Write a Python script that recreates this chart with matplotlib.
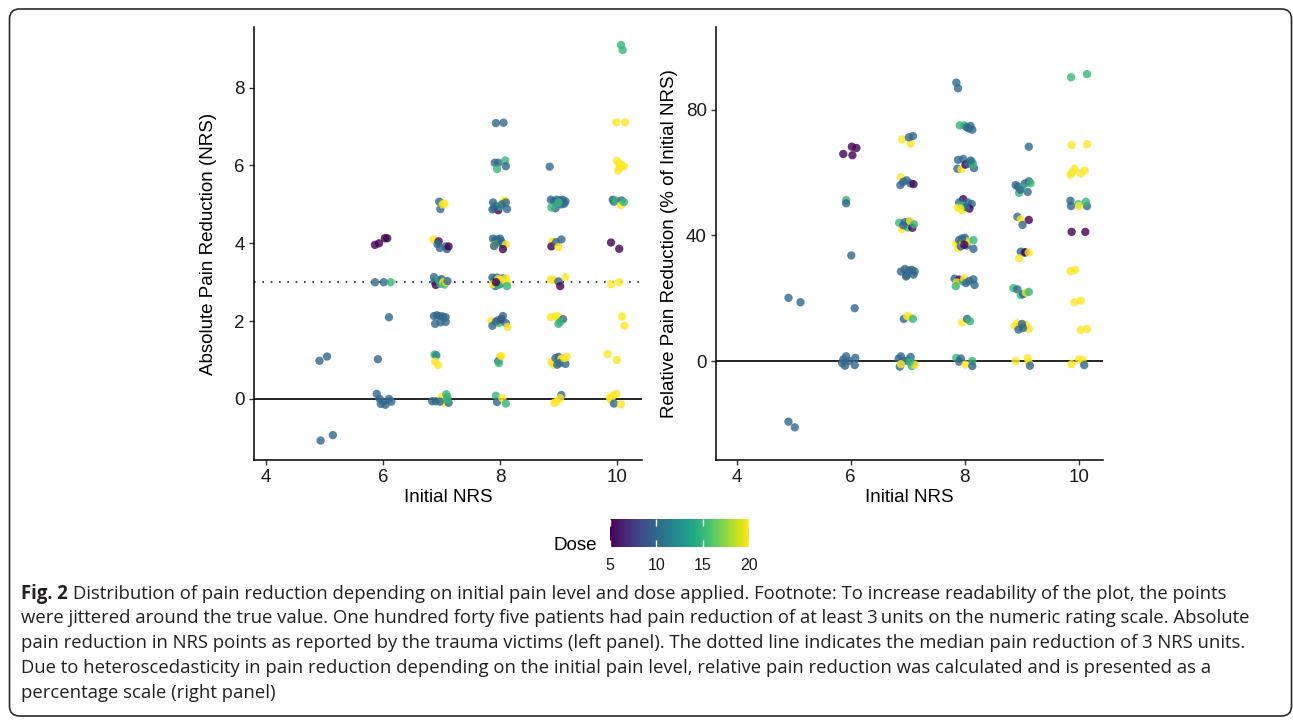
import matplotlib
matplotlib.use("Agg")
import matplotlib.pyplot as plt
from matplotlib.colors import Normalize
from matplotlib.patches import FancyBboxPatch
import matplotlib.colorbar as mcolorbar
import numpy as np

# ---------------- data (jittered positions) ----------------
# Left panel: absolute pain reduction (NRS)
abs_nrs = [
    4.91, 5.04, 4.93, 5.14,
    5.86, 5.93, 6.03, 6.07, 5.86, 6.01, 6.13, 6.10, 5.91,
    5.89, 5.94, 6.00, 6.04, 6.10, 6.14, 5.96,
    6.96, 6.98, 7.02, 7.05,
    6.86, 6.95, 6.93, 6.97, 7.07, 7.09, 7.12,
    6.87, 6.88, 6.90, 6.95, 6.98, 7.00, 7.03, 7.05, 7.08, 7.10,
    6.87, 6.92, 6.97, 7.02, 7.07, 6.89, 6.98, 7.07,
    6.88, 6.91, 6.89, 6.94,
    6.84, 6.90, 7.00, 7.04, 7.08, 7.10, 7.12, 7.10, 6.97,
    7.93, 8.06,
    7.91, 7.97, 7.95, 8.09, 8.10,
    7.87, 7.88, 7.92, 7.97, 8.00, 8.08, 8.06, 8.12, 8.03, 8.10, 7.90,
    7.88, 7.92, 7.90, 7.95, 7.98, 8.02, 8.05, 8.10, 8.05, 7.90, 8.00,
    7.87, 7.90, 7.92, 7.95, 8.00, 8.05, 7.88, 8.02, 8.10, 8.12, 7.97, 8.12, 7.97, 7.93,
    7.85, 7.87, 7.93, 7.98, 8.02, 8.05, 8.10, 8.13, 7.96,
    8.00, 7.97, 7.98, 8.02,
    7.93, 7.95, 8.04, 8.10,
    8.85,
    8.87, 8.92, 8.97, 9.02, 9.07, 9.12, 8.95, 9.05, 9.10, 8.88, 9.00,
    8.90, 8.88, 8.96, 9.00, 9.05,
    8.87, 8.92, 9.00, 9.03, 9.12,
    8.87, 8.94, 8.99, 9.00, 9.08, 9.03,
    8.88, 8.92, 8.95, 9.00, 9.05, 9.02, 9.12, 9.10, 8.98, 9.14,
    9.05, 9.03, 8.97, 8.93,
    10.07, 10.10, 9.99, 10.14,
    10.00, 10.04, 10.08, 10.02, 10.05, 10.12,
    9.93, 9.95, 9.98, 10.08, 10.07, 10.12,
    9.90, 10.04, 9.90, 10.04, 10.09, 10.13, 9.84, 10.00,
    9.88, 9.93, 9.99, 9.90, 9.95, 10.07,
]
abs_reduction = [
    0.98, 1.09, -1.07, -0.93,
    3.96, 4.00, 4.13, 4.13, 3.00, 3.00, 3.00, 2.10, 1.02,
    0.13, 0.00, -0.07, -0.15, 0.00, -0.07, -0.13,
    5.07, 4.88, 5.00, 5.02,
    4.10, 4.05, 3.98, 3.88, 3.92, 3.85, 3.92,
    3.13, 3.02, 2.93, 3.05, 2.96, 3.08, 3.00, 2.94, 3.00, 3.03,
    2.13, 2.15, 2.13, 2.12, 2.10, 1.93, 1.97, 1.98,
    1.14, 1.12, 0.96, 0.87,
    -0.06, -0.06, 0.05, -0.10, 0.12, 0.05, -0.10, -0.02, -0.07,
    7.09, 7.10,
    6.07, 6.07, 5.91, 6.13, 5.98,
    4.87, 5.05, 4.96, 4.85, 4.95, 5.10, 5.07, 4.88, 5.00, 5.05, 4.90,
    4.12, 4.07, 3.95, 4.10, 4.02, 4.05, 3.98, 3.97, 3.85, 3.93, 4.12,
    3.12, 3.05, 2.90, 3.12, 2.95, 3.10, 2.95, 3.05, 3.10, 3.00, 3.08, 2.90, 2.93, 3.00,
    2.00, 1.88, 1.98, 1.95, 2.05, 2.13, 1.95, 1.85, 2.02,
    1.08, 0.97, 0.92, 1.10,
    0.08, -0.08, 0.02, -0.12,
    5.97,
    5.12, 5.08, 5.12, 5.10, 5.12, 5.08, 4.90, 5.00, 5.02, 4.92, 5.05,
    4.05, 3.92, 4.03, 3.90, 4.10,
    3.07, 3.05, 3.02, 2.90, 3.13,
    2.10, 2.12, 2.12, 1.93, 2.05, 1.98,
    0.95, 0.88, 1.05, 1.08, 1.03, 0.92, 0.90, 1.05, 0.88, 1.08,
    0.10, 0.02, -0.07, -0.10,
    9.10, 8.97, 7.11, 7.11,
    6.12, 6.05, 6.00, 5.87, 5.95, 5.98,
    5.12, 5.07, 5.10, 5.10, 4.98, 5.06,
    4.02, 3.86, 2.95, 3.00, 2.12, 1.88, 1.15, 1.00,
    0.03, 0.08, 0.13, -0.02, -0.12, -0.14,
]
abs_dose = [
    10, 10, 10, 10,
    5, 5, 5, 5, 10, 10, 15, 10, 10,
    10, 10, 10, 10, 10, 10, 10,
    10, 10, 20, 20,
    20, 5, 10, 10, 10, 10, 5,
    10, 10, 5, 15, 15, 10, 20, 15, 20, 10,
    10, 10, 10, 10, 10, 10, 10, 10,
    15, 12, 20, 20,
    10, 10, 20, 20, 15, 15, 10, 15, 10,
    10, 10,
    10, 10, 15, 15, 10,
    10, 10, 10, 5, 15, 20, 20, 10, 10, 10, 10,
    10, 10, 20, 10, 15, 10, 10, 20, 5, 10, 10,
    10, 10, 10, 10, 10, 10, 20, 20, 20, 20, 20, 15, 15, 5,
    20, 10, 10, 15, 5, 10, 10, 20, 10,
    20, 10, 15, 20,
    15, 10, 20, 15,
    10,
    10, 10, 10, 10, 10, 10, 10, 10, 10, 15, 15,
    20, 5, 10, 20, 10,
    20, 20, 10, 5, 20,
    20, 20, 20, 15, 10, 15,
    20, 20, 10, 10, 20, 10, 10, 20, 10, 20,
    10, 20, 20, 20,
    15, 15, 20, 20,
    20, 20, 20, 20, 20, 20,
    10, 10, 15, 10, 20, 15,
    5, 5, 20, 20, 20, 20, 20, 20,
    20, 20, 20, 20, 10, 20,
]

# Right panel: relative pain reduction (% of initial NRS)
rel_nrs = [
    4.91, 5.12, 4.91, 5.02,
    5.87, 6.02, 6.10, 6.03, 5.92, 5.92, 6.01, 6.07,
    5.87, 5.92, 6.08, 5.85, 5.90, 6.07, 5.97,
    6.90, 7.05, 7.02, 7.09,
    6.88, 6.87, 6.98, 7.05, 7.10, 6.92,
    6.85, 6.90, 6.95, 7.00, 7.02, 7.04, 7.08, 7.11, 6.92,
    6.88, 6.95, 6.98, 7.02, 7.07, 7.12, 6.97, 7.10,
    6.93, 6.99, 7.03, 7.09,
    6.84, 6.88, 6.93, 7.05, 7.00, 7.10, 6.86, 6.88, 7.07, 7.12, 7.03,
    7.85, 7.88,
    7.91, 7.99, 8.03, 8.10, 8.13, 8.07,
    7.88, 7.87, 7.97, 7.94, 8.01, 8.06, 8.12, 8.16, 8.14, 8.10,
    7.97, 8.05, 8.12, 7.90, 7.88, 7.96, 7.95, 8.08, 8.02, 7.92,
    7.85, 7.88, 7.90, 7.93, 7.97, 8.00, 8.03, 8.05, 8.15, 8.15, 7.95, 7.99,
    7.82, 7.90, 7.86, 7.84, 7.97, 7.99, 8.08, 8.15, 8.17, 8.02,
    7.95, 8.04, 8.09,
    7.85, 7.93, 7.90, 8.01, 8.13, 8.13,
    9.12,
    8.89, 8.93, 8.95, 9.05, 9.10, 9.12, 9.15, 9.00, 8.97,
    8.92, 8.98, 9.01, 9.12,
    8.98, 9.04, 9.06, 8.95, 9.12,
    8.85, 8.92, 8.98, 9.02, 9.07, 9.12,
    8.87, 8.92, 9.00, 9.07, 9.12, 8.94, 9.02, 9.00,
    8.89, 9.10, 9.12, 9.14,
    9.86, 10.14, 9.87, 10.14,
    9.85, 9.92, 10.03, 10.10, 9.88,
    9.85, 9.86, 9.99, 10.14, 10.12, 10.00,
    9.87, 10.11, 9.85, 9.93, 9.92, 10.03, 10.03, 10.14,
    9.87, 10.00, 10.06, 10.09,
]
rel_pct = [
    20.1, 18.7, -19.3, -21.1,
    65.9, 68.2, 67.8, 65.5, 51.2, 50.2, 33.6, 16.8,
    0.5, 1.5, 1.0, -0.7, -1.5, -1.3, 0.0,
    70.5, 69.2, 71.2, 71.6,
    58.5, 56.0, 57.5, 56.5, 56.3, 57.0,
    44.0, 42.0, 44.2, 42.5, 44.3, 44.5, 42.4, 43.5, 43.2,
    28.5, 29.3, 27.3, 28.8, 29.0, 28.5, 26.9, 27.5,
    13.4, 14.3, 14.0, 13.4,
    0.8, 1.5, 0.0, 1.3, 0.2, -0.8, -1.8, -1.0, -1.6, -1.2, -0.3,
    88.6, 86.8,
    75.0, 75.0, 74.4, 74.8, 73.6, 74.0,
    64.0, 61.2, 64.3, 61.0, 62.5, 62.8, 63.5, 61.4, 62.8, 63.8,
    51.5, 50.5, 50.0, 50.5, 48.8, 48.0, 49.5, 48.5, 49.0, 48.5,
    37.5, 36.0, 38.5, 36.5, 37.8, 39.2, 36.8, 38.0, 38.5, 35.7, 39.0, 37.0,
    26.2, 25.9, 25.0, 23.8, 25.3, 26.3, 25.5, 26.0, 24.2, 24.8,
    12.3, 13.4, 12.7,
    1.0, 0.8, -0.2, -1.1, 0.0, -1.6,
    68.2,
    56.0, 55.5, 53.5, 56.5, 53.8, 57.2, 56.6, 55.0, 54.5,
    45.9, 45.1, 43.3, 44.9,
    34.8, 34.5, 34.6, 32.7, 34.5,
    23.2, 22.8, 21.0, 21.3, 21.8, 22.0,
    11.2, 12.0, 11.0, 11.5, 10.2, 10.0, 10.5, 11.8,
    0.0, 0.9, -0.5, -1.5,
    90.3, 91.3, 68.7, 69.0,
    59.3, 61.2, 59.7, 60.6, 60.0,
    51.0, 49.3, 49.9, 49.3, 50.7, 49.3,
    41.1, 41.1, 28.6, 29.0, 18.7, 19.2, 9.9, 10.2,
    -1.0, 0.5, 0.3, -1.3,
]
rel_dose = [
    10, 10, 10, 10,
    5, 5, 5, 5, 15, 10, 10, 10,
    10, 10, 10, 10, 10, 10, 10,
    20, 20, 10, 10,
    20, 10, 10, 10, 5, 10,
    15, 20, 10, 15, 10, 20, 5, 15, 10,
    10, 10, 10, 10, 10, 10, 10, 10,
    10, 20, 20, 15,
    10, 10, 10, 10, 10, 10, 10, 20, 15, 20, 15,
    10, 10,
    15, 15, 10, 10, 10, 10,
    10, 10, 10, 20, 5, 10, 15, 10, 15, 10,
    5, 10, 10, 10, 20, 20, 15, 5, 10, 20,
    20, 20, 10, 10, 20, 10, 10, 20, 15, 10, 10, 5,
    10, 5, 20, 15, 15, 20, 10, 10, 10, 10,
    20, 10, 15,
    15, 10, 10, 20, 15, 10,
    10,
    10, 10, 15, 10, 10, 10, 15, 15, 10,
    10, 20, 10, 5,
    10, 10, 5, 20, 20,
    15, 10, 15, 10, 20, 15,
    20, 20, 20, 20, 20, 10, 10, 10,
    20, 20, 20, 10,
    15, 15, 20, 20,
    20, 20, 20, 20, 20,
    10, 10, 15, 10, 15, 20,
    5, 5, 20, 20, 20, 20, 20, 20,
    20, 20, 20, 10,
]

x_ticks = [4, 6, 8, 10]
abs_yticks = [0, 2, 4, 6, 8]
rel_yticks = [0, 40, 80]
dose_ticks = [5, 10, 15, 20]
median_reduction = 3

caption_lines = [
    "Distribution of pain reduction depending on initial pain level and dose applied. Footnote: To increase readability of the plot, the points",
    "were jittered around the true value. One hundred forty five patients had pain reduction of at least 3\u2009units on the numeric rating scale. Absolute",
    "pain reduction in NRS points as reported by the trauma victims (left panel). The dotted line indicates the median pain reduction of 3 NRS units.",
    "Due to heteroscedasticity in pain reduction depending on the initial pain level, relative pain reduction was calculated and is presented as a",
    "percentage scale (right panel)",
]

# ---------------- figure ----------------
W, H = 1293, 722
fig = plt.figure(figsize=(W / 100, H / 100), dpi=100)
fig.patch.set_facecolor("white")
plt.rcParams["font.family"] = ["Liberation Sans", "DejaVu Sans"]

norm = Normalize(vmin=5, vmax=20)
cmap = plt.get_cmap("viridis")


def px_axes(x0, y0, x1, y1):
    return fig.add_axes([x0 / W, 1 - y1 / H, (x1 - x0) / W, (y1 - y0) / H])


axL = px_axes(254, 27, 642, 460)
axR = px_axes(716, 27, 1103, 460)


def style(ax):
    for s in ["top", "right"]:
        ax.spines[s].set_visible(False)
    for s in ["left", "bottom"]:
        ax.spines[s].set_linewidth(1.1)
        ax.spines[s].set_color("black")
    ax.tick_params(axis="both", length=3.5, width=1.0, color="#333333",
                   labelsize=13.5, labelcolor="#1a1a1a", pad=3)
    ax.set_facecolor("white")


axL.axhline(0, color="black", lw=1.2, zorder=1)
axL.axhline(median_reduction, color="#222222", lw=1.2, linestyle=(0, (1, 4.0)), zorder=1)
axL.scatter(abs_nrs, abs_reduction, c=abs_dose, cmap=cmap, norm=norm,
            s=36, alpha=0.8, linewidths=0, zorder=2)
axL.set_xlim(3.79, 10.43)
axL.set_ylim(-1.57, 9.56)
axL.set_xticks(x_ticks)
axL.set_yticks(abs_yticks)
style(axL)

axR.axhline(0, color="black", lw=1.2, zorder=1)
axR.scatter(rel_nrs, rel_pct, c=rel_dose, cmap=cmap, norm=norm,
            s=36, alpha=0.8, linewidths=0, zorder=2)
axR.set_xlim(3.64, 10.42)
axR.set_ylim(-31.5, 106.3)
axR.set_xticks(x_ticks)
axR.set_yticks(rel_yticks)
style(axR)

# axis titles
fig.text(448 / W, 1 - 497 / H, "Initial NRS", ha="center", va="center", fontsize=13.5)
fig.text(909 / W, 1 - 497 / H, "Initial NRS", ha="center", va="center", fontsize=13.5)
fig.text(209 / W, 1 - 243.5 / H, "Absolute Pain Reduction (NRS)", rotation=90,
         ha="center", va="center", fontsize=13.5)
fig.text(670 / W, 1 - 243.5 / H, "Relative Pain Reduction (% of Initial NRS)", rotation=90,
         ha="center", va="center", fontsize=13.5)

# colorbar legend
cax = px_axes(610, 519, 749, 547)
cb = mcolorbar.ColorbarBase(cax, cmap=cmap, norm=norm, orientation="horizontal")
cb.outline.set_visible(False)
cb.set_ticks(dose_ticks)
cax.tick_params(axis="x", direction="in", length=5, width=1.0, color="white",
                labelsize=11.5, labelcolor="#1a1a1a", pad=8, top=True, bottom=True)
fig.text(597 / W, 1 - 546 / H, "Dose", ha="right", va="center", fontsize=13.5)

# caption
renderer = fig.canvas.get_renderer()
cap_family = ["Open Sans", "DejaVu Sans"]
target_w = 1250 - 21
probe = fig.text(0, 0, caption_lines[2], fontsize=11, family=cap_family)
w = probe.get_window_extent(renderer=renderer).width
probe.remove()
cap_size = 11 * target_w / w

line_y = [593.6, 618.4, 643.2, 668.0, 692.8]
x0 = 21
fig_lbl = fig.text(x0 / W, 1 - line_y[0] / H, "Fig. 2", fontsize=cap_size,
                   family=cap_family, weight="bold", ha="left", va="center",
                   color="#231f20")
bw = fig_lbl.get_window_extent(renderer=renderer).width
space = cap_size * 0.26 * 100 / 72
fig.text((x0 + bw + space) / W, 1 - line_y[0] / H, caption_lines[0], fontsize=cap_size,
         family=cap_family, ha="left", va="center", color="#231f20")
for ln, yy in zip(caption_lines[1:], line_y[1:]):
    fig.text(x0 / W, 1 - yy / H, ln, fontsize=cap_size, family=cap_family,
             ha="left", va="center", color="#231f20")

# rounded frame
frame = FancyBboxPatch((0.095, 0.06), 12.82, 7.07,
                       boxstyle="round,pad=0,rounding_size=0.1",
                       transform=fig.dpi_scale_trans, fill=False,
                       edgecolor="#2a2a2a", linewidth=1.2, clip_on=False)
fig.patches.append(frame)

fig.savefig("out.png", dpi=100, facecolor="white")
